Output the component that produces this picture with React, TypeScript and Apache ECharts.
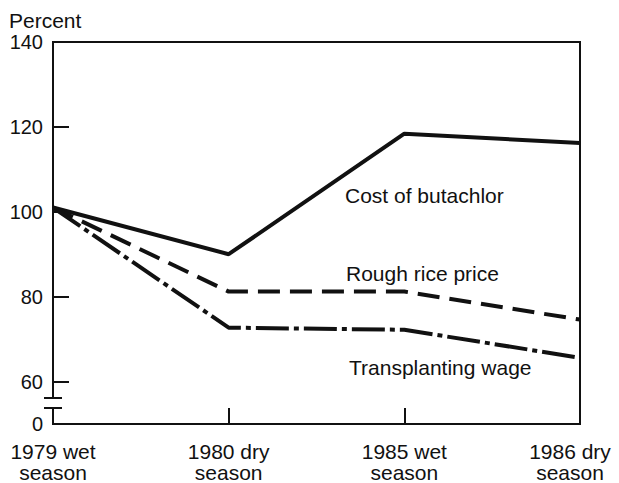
import React, { useEffect, useRef } from "react";
import * as echarts from "echarts";

const categories = ["1979 wet\nseason", "1980 dry\nseason", "1985 wet\nseason", "1986 dry\nseason"];
const butachlorCost = [101, 90, 118.4, 116.2];
const roughRicePrice = [101, 81.2, 81.2, 74.6];
const transplantingWage = [101, 72.7, 72.2, 65.6];
const yLabelValues = [50, 60, 80, 100, 120, 140];
const yTickValues = [60, 80, 100, 120];
const seriesNames = ["Cost of butachlor", "Rough rice price", "Transplanting wage"];

const FONT = "'Liberation Sans', Arial, Helvetica, sans-serif";
const INK = "#111";

export default function App() {
  const ref = useRef<HTMLDivElement>(null);
  useEffect(() => {
    if (!ref.current) return;
    const chart = echarts.init(ref.current, undefined, { renderer: "svg" });
    chart.setOption({
      animation: false,
      backgroundColor: "#fff",
      title: {
        text: "Percent",
        left: 9,
        top: 10,
        padding: 0,
        textStyle: { fontFamily: FONT, fontSize: 21, fontWeight: "normal", color: INK },
      },
      grid: {
        left: 53,
        right: 39,
        top: 42,
        bottom: 59,
        show: true,
        borderColor: INK,
        borderWidth: 2,
        containLabel: false,
        outerBoundsMode: "none",
      },
      xAxis: {
        type: "category",
        boundaryGap: false,
        data: categories.map((c, i) =>
          i === categories.length - 1 ? { value: c, textStyle: { padding: [0, 20, 0, 0] } } : c
        ),
        axisLine: { lineStyle: { color: INK, width: 2 } },
        axisTick: {
          inside: true,
          length: 16,
          interval: (i: number) => i === 1 || i === 2,
          lineStyle: { color: INK, width: 2 },
        },
        axisLabel: {
          interval: 0,
          margin: 17,
          fontFamily: FONT,
          fontSize: 21,
          lineHeight: 21,
          color: INK,
        },
        splitLine: { show: false },
      },
      yAxis: {
        type: "value",
        min: 50,
        max: 140,
        axisLine: { show: true, lineStyle: { color: INK, width: 2 } },
        axisTick: {
          show: true,
          inside: true,
          length: 16,
          customValues: yTickValues,
          lineStyle: { color: INK, width: 2 },
        },
        axisLabel: {
          customValues: yLabelValues,
          margin: 10,
          fontFamily: FONT,
          fontSize: 20,
          color: INK,
          formatter: (v: number) => (v === 50 ? "0" : String(v)),
        },
        splitLine: { show: false },
      },
      series: [
        {
          name: seriesNames[0],
          type: "line",
          data: butachlorCost,
          symbol: "none",
          lineStyle: { color: INK, width: 4, type: "solid" },
        },
        {
          name: seriesNames[1],
          type: "line",
          data: roughRicePrice,
          symbol: "none",
          lineStyle: { color: INK, width: 4, type: [22, 10] },
        },
        {
          name: seriesNames[2],
          type: "line",
          data: transplantingWage,
          symbol: "none",
          lineStyle: { color: INK, width: 4, type: [33, 5, 5, 5] },
        },
      ],
    });

    const yBase = chart.convertToPixel({ yAxisIndex: 0 }, 50) as number;
    const xBase = chart.convertToPixel({ xAxisIndex: 0 }, 0) as number;
    const breakTop = yBase - 26;
    const breakBottom = yBase - 16;
    chart.setOption({
      graphic: [
        {
          type: "rect",
          shape: { x: xBase - 3, y: breakTop + 1, width: 6, height: breakBottom - breakTop - 2 },
          style: { fill: "#fff" },
          z: 100,
        },
        {
          type: "line",
          shape: { x1: xBase - 9, y1: breakTop, x2: xBase + 9, y2: breakTop },
          style: { stroke: INK, lineWidth: 2 },
          z: 101,
        },
        {
          type: "line",
          shape: { x1: xBase - 9, y1: breakBottom, x2: xBase + 9, y2: breakBottom },
          style: { stroke: INK, lineWidth: 2 },
          z: 101,
        },
        {
          type: "text",
          x: 345,
          y: 195,
          style: { text: seriesNames[0], fill: INK, font: `21px ${FONT}`, verticalAlign: "middle" },
        },
        {
          type: "text",
          x: 346,
          y: 273,
          style: { text: seriesNames[1], fill: INK, font: `21px ${FONT}`, verticalAlign: "middle" },
        },
        {
          type: "text",
          x: 349,
          y: 367,
          style: { text: seriesNames[2], fill: INK, font: `21px ${FONT}`, verticalAlign: "middle" },
        },
      ],
    });
    return () => chart.dispose();
  }, []);
  return <div ref={ref} style={{ width: 619, height: 483, position: "absolute", left: 0, top: 0 }} />;
}
